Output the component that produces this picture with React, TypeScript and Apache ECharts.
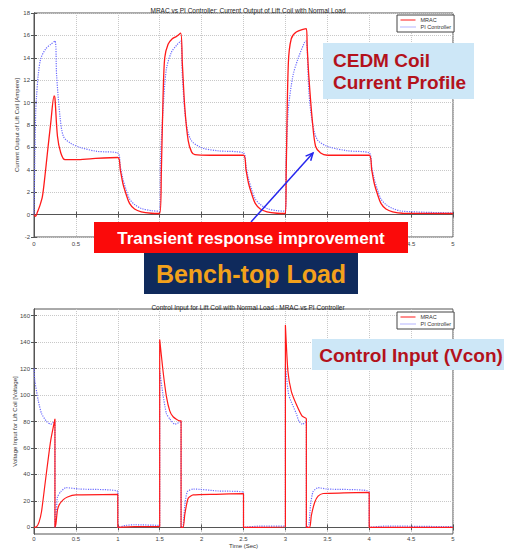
import React, { useEffect, useRef } from "react";
import * as echarts from "echarts";

// ---------- Top chart: coil current [A] ----------
const curTitle = "MRAC vs PI Controller: Current Output of Lift Coil with Normal Load";
const curYName = "Current Output of Lift Coil [Ampere]";
const tCurMrac = [0, 0.02, 0.04, 0.07, 0.1, 0.13, 0.16, 0.2, 0.24, 0.25, 0.28, 0.32, 0.37, 0.5, 0.7, 1.0,
  1.03, 1.06, 1.1, 1.14, 1.2, 1.28, 1.4, 1.5, 1.52, 1.54, 1.56, 1.6, 1.65, 1.7, 1.75, 1.77, 1.8, 1.84, 1.88, 1.92, 2.1, 2.5,
  2.53, 2.56, 2.6, 2.64, 2.7, 2.78, 2.9, 3.0, 3.01, 3.035, 3.07, 3.13, 3.25, 3.26, 3.28, 3.32, 3.36, 3.42, 3.5, 4.0,
  4.03, 4.06, 4.1, 4.14, 4.2, 4.28, 4.4, 5.0];
const curMrac = [0, -0.15, 0.2, 0.8, 1.6, 3.4, 5.5, 8.2, 10.6, 10.4, 7.0, 5.5, 4.9, 4.9, 5.0, 5.1,
  4.0, 2.8, 1.8, 1.0, 0.5, 0.25, 0.12, 0.1, 4, 10.5, 14, 15.2, 15.7, 15.9, 16.2, 13.5, 9.5, 6.6, 5.6, 5.35, 5.3, 5.3,
  4.0, 2.8, 1.8, 1.0, 0.5, 0.25, 0.12, 0.1, 4, 13.5, 15.7, 16.3, 16.6, 15, 12.3, 8.5, 6.1, 5.5, 5.3, 5.3,
  4.0, 2.8, 1.8, 1.0, 0.5, 0.25, 0.12, 0.1];
const tCurPi = [0, 0.01, 0.02, 0.03, 0.05, 0.08, 0.14, 0.2, 0.25, 0.27, 0.31, 0.35, 0.43, 0.55, 0.75, 1.0,
  1.03, 1.06, 1.1, 1.14, 1.2, 1.28, 1.4, 1.5, 1.51, 1.54, 1.58, 1.64, 1.7, 1.75, 1.77, 1.81, 1.87, 1.99, 2.19, 2.5,
  2.53, 2.56, 2.6, 2.64, 2.7, 2.78, 2.9, 3.0, 3.01, 3.035, 3.09, 3.15, 3.23, 3.25, 3.28, 3.32, 3.38, 3.5, 3.74, 4.0,
  4.03, 4.06, 4.1, 4.14, 4.2, 4.28, 4.4, 5.0];
const curPi = [0, 5, 9, 10.5, 12.4, 13.9, 14.8, 15.2, 15.5, 12.4, 8.8, 7.0, 6.4, 6.0, 5.65, 5.5,
  4.3, 3.2, 2.2, 1.4, 0.9, 0.55, 0.35, 0.3, 5, 9.4, 13, 14.5, 15.1, 15.5, 12.4, 8.5, 6.7, 6.0, 5.7, 5.5,
  4.3, 3.2, 2.2, 1.4, 0.9, 0.55, 0.35, 0.3, 5, 9.4, 12.4, 13.9, 15.4, 15.5, 11, 8.3, 6.7, 6.1, 5.7, 5.5,
  4.3, 3.2, 2.2, 1.4, 0.9, 0.55, 0.3, 0.15];
// time-tick labels of the top plot that stay visible (the rest sit under the red callout)
const curVisibleXLabels = [0, 0.5, 4.5, 5];

// ---------- Bottom chart: control voltage [V] ----------
const voltTitle = "Control Input for Lift Coil with Normal Load : MRAC vs PI Controller";
const voltYName = "Voltage Input for Lift Coil [Voltage]";
const voltXName = "Time (Sec)";
const voltTicks = [0, 20, 40, 60, 80, 100, 120, 140, 160];
const tVoltMrac = [0, 0.03, 0.06, 0.09, 0.13, 0.17, 0.2, 0.25, 0.25, 0.26, 0.28, 0.3, 0.35, 0.4, 0.5, 1.0, 1.0, 1.2, 1.5,
  1.5, 1.54, 1.58, 1.62, 1.66, 1.74, 1.755, 1.755, 1.78, 1.8, 1.84, 1.9, 2.17, 2.5, 2.5, 3.0,
  3.0, 3.03, 3.07, 3.13, 3.2, 3.25, 3.25, 3.29, 3.31, 3.35, 3.39, 3.45, 3.7, 4.0, 4.0, 5.0];
const voltMrac = [0, 0.5, 4, 12, 32, 52, 66, 82, 0, 2, 13, 17, 21, 23, 24.5, 25, 0, 0.5, 0.5,
  142, 118, 99, 88, 83.6, 80.5, 80.5, 0, 0, 10, 22, 24.5, 25, 25.5, 0, 0.5,
  153, 118, 103, 93, 84, 82, 0, 0, 9, 19, 23.6, 25.6, 26, 26.5, 0, 0];
const tVoltPi = [0, 0.01, 0.05, 0.09, 0.15, 0.2, 0.25, 0.25, 0.26, 0.28, 0.32, 0.38, 0.54, 1.0, 1.0, 1.1, 1.2, 1.5,
  1.5, 1.54, 1.58, 1.62, 1.68, 1.755, 1.755, 1.78, 1.8, 1.83, 1.9, 2.2, 2.5, 2.5, 2.7, 3.0,
  3.0, 3.04, 3.13, 3.16, 3.2, 3.25, 3.25, 3.28, 3.3, 3.33, 3.39, 3.49, 4.0, 4.0, 4.2, 5.0];
const voltPi = [120, 111, 96, 86, 80, 78, 80.5, 0, 5, 23, 27, 30, 29, 27, 0, 1.5, 2, 1.5,
  118, 100, 86, 82, 78, 80, 0, 2, 17, 27, 29, 27.5, 26.5, 0, 1, 1,
  123, 100, 86, 80.5, 78, 80, 0, 2, 17, 27, 30, 29, 27, 0, 1, 0.5];

const legendNames = ["MRAC", "PI Controller"];

const zip = (t: number[], v: number[]) => t.map((x, i) => [x, v[i]]);

const FONT = "Liberation Sans, Arial, sans-serif";
const RED = "#ff1a1a";
const BLUE = "#6b6bff";
const GRID_LINE = { show: true, lineStyle: { color: "#c8c8c8", type: "dotted" as const, width: 1 } };
const AXIS_LINE = { show: true, lineStyle: { color: "#555", width: 1 } };
const TICK = { show: true, inside: true, length: 3, lineStyle: { color: "#555" } };

export default function App() {
  const ref = useRef<HTMLDivElement>(null);
  useEffect(() => {
    if (!ref.current) return;
    const chart = echarts.init(ref.current, undefined, { renderer: "svg" });
    const grids = [
      { left: 34, top: 13, width: 419, height: 224, outerBoundsMode: "none", containLabel: false, show: true, borderColor: "#555", borderWidth: 1, backgroundColor: "#fff" },
      { left: 34, top: 309, width: 419, height: 225, outerBoundsMode: "none", containLabel: false, show: true, borderColor: "#555", borderWidth: 1, backgroundColor: "#fff" },
    ];
    const xMain = (gi: number, name: string, nameGap: number, labelMargin: number, fmt?: (v: number) => string) => ({
      type: "value", gridIndex: gi, min: 0, max: 5, interval: 0.5,
      name, nameLocation: "middle", nameGap, nameMoveOverlap: false,
      nameTextStyle: { fontSize: 6, color: "#333", fontFamily: FONT },
      axisLine: AXIS_LINE, axisTick: TICK, splitLine: GRID_LINE,
      axisLabel: { fontSize: 6, color: "#444", margin: labelMargin, fontFamily: FONT, ...(fmt ? { formatter: fmt } : {}) },
    });
    const xMirror = (gi: number) => ({
      type: "value", gridIndex: gi, min: 0, max: 5, interval: 0.5, position: "top",
      axisLine: AXIS_LINE, axisTick: TICK, splitLine: { show: false }, axisLabel: { show: false },
    });
    const curFmt = (v: number) => (curVisibleXLabels.some((c) => Math.abs(c - v) < 1e-6) ? String(v) : "");
    const option: any = {
      animation: false,
      backgroundColor: "#fff",
      title: [
        { text: curTitle, left: 243, top: 2, textAlign: "center", textStyle: { fontSize: 6.5, fontWeight: "normal", color: "#222", fontFamily: FONT } },
        { text: voltTitle, left: 243, top: 299, textAlign: "center", textStyle: { fontSize: 6.5, fontWeight: "normal", color: "#222", fontFamily: FONT } },
      ],
      legend: [0, 1].map((i) => ({
        data: legendNames,
        orient: "vertical",
        left: 397,
        top: i === 0 ? 15 : 312,
        itemWidth: 15,
        itemHeight: 5,
        itemGap: 1,
        padding: [2, 3, 2, 3],
        borderColor: "#444",
        borderWidth: 1,
        backgroundColor: "#fff",
        itemStyle: { opacity: 0 },
        lineStyle: { width: 1 },
        textStyle: { fontSize: 5.5, color: "#333", fontFamily: FONT, padding: [0, 0, 0, 0] },
      })),
      grid: grids,
      xAxis: [xMain(0, "", 10, 4, curFmt), xMirror(0), xMain(1, voltXName, 9, 2), xMirror(1)],
      yAxis: [
        {
          type: "value", gridIndex: 0, min: -2, max: 18, interval: 2,
          name: curYName, nameLocation: "middle", nameGap: 14, nameMoveOverlap: false,
          nameTextStyle: { fontSize: 6, color: "#333", fontFamily: FONT },
          axisLine: AXIS_LINE, axisTick: TICK, splitLine: GRID_LINE,
          axisLabel: { fontSize: 6, color: "#444", margin: 4, fontFamily: FONT },
        },
        {
          type: "value", gridIndex: 0, min: -2, max: 18, interval: 2, position: "right",
          axisLine: AXIS_LINE, axisTick: TICK, splitLine: { show: false }, axisLabel: { show: false },
        },
        {
          type: "value", gridIndex: 1, min: -5, max: 165,
          name: voltYName, nameLocation: "middle", nameGap: 16, nameMoveOverlap: false,
          nameTextStyle: { fontSize: 6, color: "#333", fontFamily: FONT },
          axisLine: AXIS_LINE,
          axisTick: { ...TICK, customValues: voltTicks },
          splitLine: GRID_LINE,
          axisLabel: { fontSize: 6, color: "#444", margin: 4, fontFamily: FONT, customValues: voltTicks },
        },
        {
          type: "value", gridIndex: 1, min: -5, max: 165, position: "right",
          axisLine: AXIS_LINE, axisTick: { ...TICK, customValues: voltTicks }, splitLine: { show: false }, axisLabel: { show: false },
        },
      ],
      series: [
        {
          name: "PI Controller", type: "line", xAxisIndex: 0, yAxisIndex: 0, symbol: "none", smooth: 0.3,
          data: zip(tCurPi, curPi), lineStyle: { color: BLUE, width: 1.2, type: "dotted" }, itemStyle: { color: BLUE },
        },
        {
          name: "MRAC", type: "line", xAxisIndex: 0, yAxisIndex: 0, symbol: "none", smooth: 0.3,
          data: zip(tCurMrac, curMrac), lineStyle: { color: RED, width: 1.3 }, itemStyle: { color: RED },
        },
        {
          name: "PI Controller", type: "line", xAxisIndex: 2, yAxisIndex: 2, symbol: "none", smooth: 0.2,
          data: zip(tVoltPi, voltPi), lineStyle: { color: BLUE, width: 1.2, type: "dotted" }, itemStyle: { color: BLUE },
        },
        {
          name: "MRAC", type: "line", xAxisIndex: 2, yAxisIndex: 2, symbol: "none", smooth: 0.2,
          data: zip(tVoltMrac, voltMrac), lineStyle: { color: RED, width: 1.2 }, itemStyle: { color: RED },
        },
      ],
      graphic: [
        { type: "rect", z: 100, shape: { x: 323, y: 43, width: 151, height: 56 }, style: { fill: "#cde7f7" } },
        {
          type: "text", z: 101, x: 333, y: 71,
          style: { text: "CEDM Coil\nCurrent Profile", fill: "#b3121c", fontSize: 19, fontWeight: "bold", fontFamily: FONT, align: "left", verticalAlign: "middle", lineHeight: 22 },
        },
        { type: "line", z: 100, shape: { x1: 251, y1: 222, x2: 313, y2: 153 }, style: { stroke: "#2727ee", lineWidth: 1.5 } },
        { type: "polyline", z: 100, shape: { points: [[305.6, 156.1], [313, 153], [310.7, 160.7]] }, style: { stroke: "#2727ee", lineWidth: 1.5, fill: null } },
        { type: "rect", z: 102, shape: { x: 94, y: 222, width: 314, height: 31 }, style: { fill: "#fb0a0a" } },
        {
          type: "text", z: 103, x: 251, y: 238,
          style: { text: "Transient response improvement", fill: "#ffffff", fontSize: 17, fontWeight: "bold", fontFamily: FONT, align: "center", verticalAlign: "middle" },
        },
        { type: "rect", z: 102, shape: { x: 144, y: 253, width: 214, height: 41 }, style: { fill: "#0f2a5c" } },
        {
          type: "text", z: 103, x: 251, y: 274,
          style: { text: "Bench-top Load", fill: "#f3a11b", fontSize: 25, fontWeight: "bold", fontFamily: FONT, align: "center", verticalAlign: "middle" },
        },
        { type: "rect", z: 100, shape: { x: 312, y: 339, width: 192, height: 31 }, style: { fill: "#cde7f7" } },
        {
          type: "text", z: 101, x: 411, y: 355,
          style: { text: "Control Input (Vcon)", fill: "#b3121c", fontSize: 19, fontWeight: "bold", fontFamily: FONT, align: "center", verticalAlign: "middle" },
        },
      ],
    };
    chart.setOption(option);
    return () => chart.dispose();
  }, []);
  return (
    <div
      ref={ref}
      style={{ position: "absolute", left: 0, top: 0, width: 516, height: 549, background: "#fff" }}
    />
  );
}
